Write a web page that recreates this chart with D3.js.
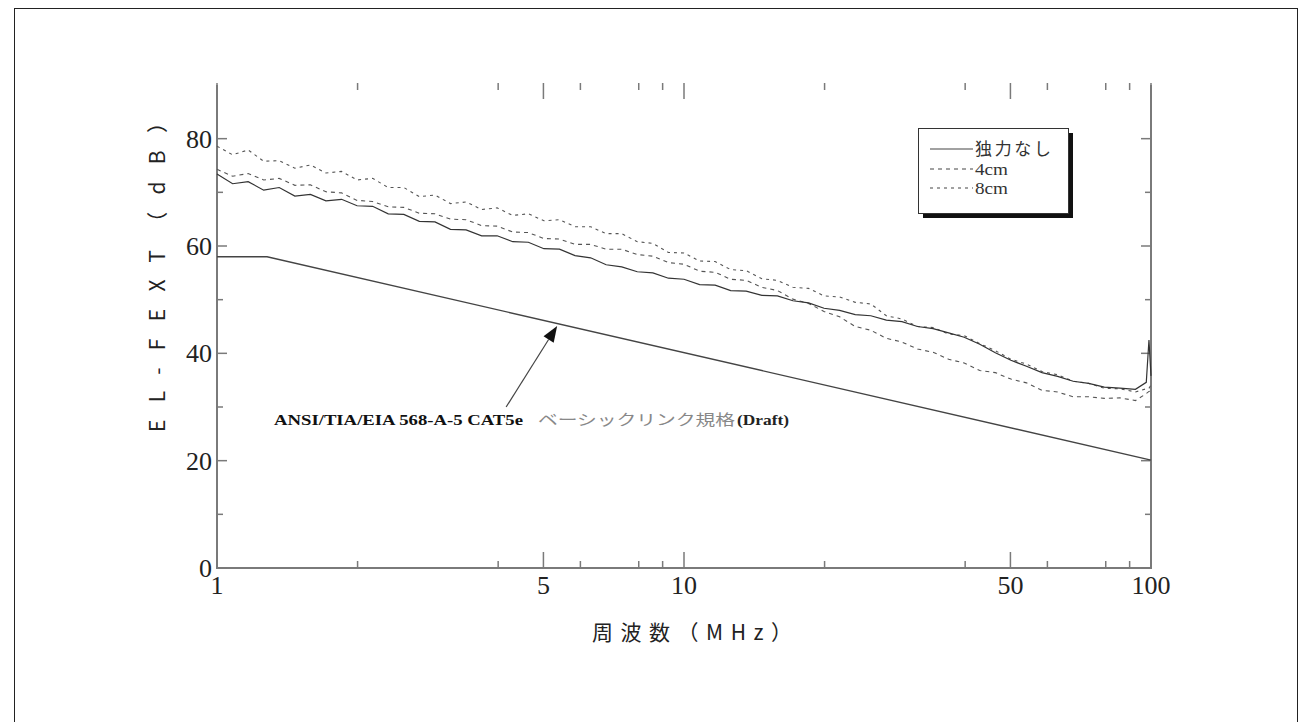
<!DOCTYPE html>
<html>
<head>
<meta charset="utf-8">
<script src="https://cdn.jsdelivr.net/npm/d3@7"></script>
<style>
  html, body { margin: 0; padding: 0; background: #fff; }
  svg { display: block; }
</style>
</head>
<body>
<svg id="chart" width="1302" height="722"></svg>
<script>
// ---------- data ----------
const freqs = [1.000, 1.080, 1.166, 1.259, 1.359, 1.468, 1.585, 1.711, 1.848, 1.995,
  2.154, 2.326, 2.512, 2.712, 2.929, 3.162, 3.415, 3.687, 3.981, 4.299,
  4.642, 5.012, 5.412, 5.843, 6.310, 6.813, 7.356, 7.943, 8.577, 9.261,
  10.00, 10.80, 11.66, 12.59, 13.59, 14.68, 15.85, 17.11, 18.48, 19.95,
  21.54, 23.26, 25.12, 27.12, 29.29, 31.62, 34.15, 36.87, 39.81, 42.99,
  46.42, 50.12, 54.12, 58.43, 63.10, 68.13, 73.56, 79.43, 85.77, 92.61,
  97.7, 99.0, 100.0];

const seriesNone = [73.4, 71.6, 72.0, 70.4, 70.9, 69.3, 69.6, 68.4, 68.7, 67.5,
  67.4, 66.0, 65.9, 64.6, 64.5, 63.1, 63.0, 61.9, 61.9, 60.8,
  60.7, 59.5, 59.4, 58.2, 57.8, 56.5, 56.1, 55.2, 55.0, 54.0,
  53.8, 52.8, 52.7, 51.7, 51.6, 50.8, 50.7, 49.8, 49.4, 48.4,
  48.0, 47.2, 47.0, 46.2, 45.9, 45.0, 44.6, 43.8, 43.0, 41.7,
  40.1, 38.7, 37.6, 36.4, 35.7, 34.8, 34.4, 33.7, 33.5, 33.3,
  34.6, 42.5, 35.8];

const series4cm = [74.3, 73.0, 73.5, 72.3, 72.6, 71.3, 71.4, 70.1, 69.9, 68.5,
  68.3, 67.3, 67.2, 66.1, 66.0, 65.0, 64.9, 63.8, 63.7, 62.6,
  62.5, 61.4, 61.3, 60.3, 60.3, 59.4, 59.4, 58.4, 58.1, 56.9,
  56.6, 55.3, 55.1, 53.8, 53.6, 52.3, 51.7, 50.1, 49.3, 47.8,
  46.8, 45.0, 44.3, 42.8, 42.1, 40.8, 40.2, 38.9, 38.2, 36.8,
  36.4, 35.2, 34.5, 33.1, 32.8, 31.9, 31.9, 31.6, 31.7, 31.2,
  32.5, 32.9, 33.0];

const series8cm = [78.6, 77.0, 77.9, 75.8, 75.9, 74.5, 75.1, 73.6, 73.9, 72.3,
  72.6, 70.9, 70.9, 69.2, 69.5, 67.9, 68.2, 66.8, 67.1, 65.7,
  66.0, 64.7, 64.9, 63.6, 63.6, 62.3, 62.3, 60.8, 60.5, 58.8,
  58.7, 57.2, 57.1, 55.6, 55.4, 53.9, 53.6, 52.3, 52.1, 50.7,
  50.5, 49.5, 49.2, 47.0, 46.4, 45.0, 44.8, 43.6, 43.3, 41.8,
  40.5, 38.9, 38.0, 36.6, 36.0, 34.8, 34.4, 33.5, 33.4, 32.8,
  33.4, 33.5, 34.1];

const limitFreqs = [1.0, 1.28, 100.0];
const limitValues = [58.0, 58.0, 20.1];

const xMajorTicks = [1, 5, 10, 50, 100];
const xMinorTicks = [2, 4, 6, 8, 9, 20, 40, 60, 80, 90];
const yMajorTicks = [0, 20, 40, 60, 80];
const yMinorTicks = [10, 30, 50, 70];

const legendLabels = ["独力なし", "4cm", "8cm"];
const yTitle = "EL-FEXT（dB）";
const xTitle = "周波数（MHz）";
const annoStd = "ANSI/TIA/EIA 568-A-5 CAT5e";
const annoJp = "ベーシックリンク規格";
const annoDraft = "(Draft)";
// annotation arrow in data coordinates: [freq, dB]
const arrowTail = [4.16, 30.0];
const arrowTip = [5.35, 45.1];

// ---------- layout ----------
const svg = d3.select("#chart");
const L = 217, R = 1151, T = 85, B = 568;
const x = d3.scaleLog().domain([1, 100]).range([L, R]);
const y = d3.scaleLinear().domain([0, 90]).range([B, T]);

// outer frame
svg.append("rect").attr("x", 14.5).attr("y", 8.5).attr("width", 1283).attr("height", 800)
  .attr("fill", "none").attr("stroke", "#222").attr("stroke-width", 1);

const axisColor = "#7a7a7a";
// axis lines (left, bottom, right)
const axisG = svg.append("g").attr("stroke", axisColor).attr("stroke-width", 2).attr("fill", "none");
axisG.append("line").attr("x1", L).attr("x2", L).attr("y1", T).attr("y2", B + 1);
axisG.append("line").attr("x1", L - 1).attr("x2", R + 1).attr("y1", B).attr("y2", B);
axisG.append("line").attr("x1", R).attr("x2", R).attr("y1", T).attr("y2", B + 1);

// x ticks (bottom, up; top, down)
function xTicks(vals, len) {
  vals.forEach(v => {
    axisG.append("line").attr("x1", x(v)).attr("x2", x(v)).attr("y1", B).attr("y2", B - len).attr("stroke-width", 1.5);
    axisG.append("line").attr("x1", x(v)).attr("x2", x(v)).attr("y1", T - 2).attr("y2", T - 2 + len).attr("stroke-width", 1.5);
  });
}
xTicks(xMajorTicks, 16);
xTicks(xMinorTicks, 7);
function yTicks(vals, len) {
  vals.forEach(v => {
    axisG.append("line").attr("x1", L).attr("x2", L + len).attr("y1", y(v)).attr("y2", y(v)).attr("stroke-width", 1.5);
    axisG.append("line").attr("x1", R).attr("x2", R - len).attr("y1", y(v)).attr("y2", y(v)).attr("stroke-width", 1.5);
  });
}
yTicks(yMajorTicks, 10);
yTicks(yMinorTicks, 6);

// tick labels
const tickFont = "'Liberation Serif', 'DejaVu Serif', serif";
svg.append("g").selectAll("text").data(yMajorTicks).join("text")
  .attr("x", 212).attr("y", d => y(d)).attr("dy", "0.35em")
  .attr("text-anchor", "end").attr("font-family", tickFont).attr("font-size", 26)
  .attr("fill", "#222").text(d => d);
svg.append("g").selectAll("text").data(xMajorTicks).join("text")
  .attr("x", d => x(d)).attr("y", 594)
  .attr("text-anchor", "middle").attr("font-family", tickFont).attr("font-size", 26)
  .attr("fill", "#222").text(d => d);

// axis titles
const cjk = "'Noto Sans CJK JP', 'Noto Sans', sans-serif";
svg.append("text")
  .attr("transform", "translate(165,272) rotate(-90)")
  .attr("text-anchor", "middle").attr("font-family", cjk).attr("font-size", 21)
  .attr("fill", "#222").attr("textLength", 320).attr("lengthAdjust", "spacing")
  .text(yTitle);
svg.append("text")
  .attr("x", 692).attr("y", 640)
  .attr("text-anchor", "middle").attr("font-family", cjk).attr("font-size", 21)
  .attr("fill", "#222").attr("textLength", 200).attr("lengthAdjust", "spacing")
  .text(xTitle);

// ---------- data lines ----------
const line = d3.line().x(d => x(d[0])).y(d => y(d[1]));
const zip = (fs, vs) => fs.map((f, i) => [f, vs[i]]);

svg.append("path").datum(zip(limitFreqs, limitValues)).attr("d", line)
  .attr("fill", "none").attr("stroke", "#444").attr("stroke-width", 1.4);

svg.append("path").datum(zip(freqs, series8cm)).attr("d", line)
  .attr("fill", "none").attr("stroke", "#555").attr("stroke-width", 1.1)
  .attr("stroke-dasharray", "3,4");
svg.append("path").datum(zip(freqs, series4cm)).attr("d", line)
  .attr("fill", "none").attr("stroke", "#555").attr("stroke-width", 1.1)
  .attr("stroke-dasharray", "4,4");
svg.append("path").datum(zip(freqs, seriesNone)).attr("d", line)
  .attr("fill", "none").attr("stroke", "#333").attr("stroke-width", 1.2);

// ---------- annotation ----------
const ax1 = x(arrowTail[0]), ay1 = y(arrowTail[1]);
const ax2 = x(arrowTip[0]), ay2 = y(arrowTip[1]);
const dx = ax2 - ax1, dy = ay2 - ay1, len = Math.hypot(dx, dy);
const ux = dx / len, uy = dy / len, px = -uy, py = ux;
const hl = 16, hw = 6;
const bx = ax2 - ux * hl, by = ay2 - uy * hl;
svg.append("line").attr("x1", ax1).attr("y1", ay1).attr("x2", bx).attr("y2", by)
  .attr("stroke", "#444").attr("stroke-width", 1.2);
svg.append("path")
  .attr("d", `M${ax2},${ay2}L${bx + px * hw},${by + py * hw}L${bx - px * hw},${by - py * hw}Z`)
  .attr("fill", "#111");

svg.append("text").attr("x", 274).attr("y", 425)
  .attr("font-family", tickFont).attr("font-weight", "bold").attr("font-size", 14)
  .attr("fill", "#111").attr("textLength", 249).attr("lengthAdjust", "spacingAndGlyphs")
  .text(annoStd);
svg.append("text").attr("x", 538).attr("y", 425)
  .attr("font-family", cjk).attr("font-size", 15)
  .attr("fill", "#888").attr("textLength", 197).attr("lengthAdjust", "spacingAndGlyphs")
  .text(annoJp);
svg.append("text").attr("x", 737).attr("y", 425)
  .attr("font-family", tickFont).attr("font-weight", "bold").attr("font-size", 14)
  .attr("fill", "#222").attr("textLength", 52).attr("lengthAdjust", "spacingAndGlyphs")
  .text(annoDraft);

// ---------- legend ----------
const lg = svg.append("g");
lg.append("rect").attr("x", 923).attr("y", 133).attr("width", 150).attr("height", 85).attr("fill", "#111");
lg.append("rect").attr("x", 918.5).attr("y", 128.5).attr("width", 150).attr("height", 85)
  .attr("fill", "#fff").attr("stroke", "#333").attr("stroke-width", 1);
const legY = [149, 169, 188];
const legDash = [null, "4,4", "3,4"];
legendLabels.forEach((lab, i) => {
  lg.append("line").attr("x1", 930).attr("x2", 973).attr("y1", legY[i]).attr("y2", legY[i])
    .attr("stroke", "#444").attr("stroke-width", 1.2)
    .attr("stroke-dasharray", legDash[i]);
  const t = lg.append("text").attr("x", 975).attr("y", legY[i]).attr("dy", "0.36em")
    .attr("fill", "#333").text(lab);
  if (i === 0) {
    t.attr("font-family", cjk).attr("font-size", 17).attr("textLength", 76).attr("lengthAdjust", "spacing");
  } else {
    t.attr("font-family", tickFont).attr("font-size", 16).attr("textLength", 33).attr("lengthAdjust", "spacingAndGlyphs");
  }
});
</script>
</body>
</html>
